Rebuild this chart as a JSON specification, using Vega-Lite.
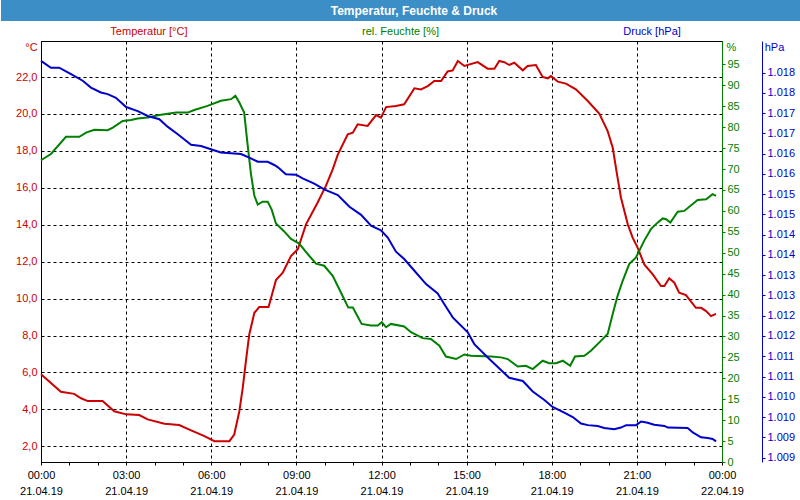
{
  "$schema": "https://vega.github.io/schema/vega-lite/v6.json",
  "padding": 0,
  "spacing": 0,
  "background": "white",
  "config": {
    "font": "Liberation Sans",
    "view": {"stroke": null},
    "axis": {"labelFont": "Liberation Sans", "labelFontSize": 11, "titleFont": "Liberation Sans", "titleFontSize": 11, "titleFontWeight": "normal"}
  },
  "datasets": {
    "temp": [
      {"h":0,"v":5.9},{"h":0.70,"v":4.95},{"h":1.17,"v":4.84},{"h":1.41,"v":4.6},{"h":1.65,"v":4.45},{"h":2.17,"v":4.45},{"h":2.58,"v":3.9},{"h":3.0,"v":3.73},{"h":3.46,"v":3.69},{"h":3.76,"v":3.46},{"h":4.35,"v":3.22},{"h":4.87,"v":3.15},{"h":5.29,"v":2.86},{"h":5.76,"v":2.55},{"h":6.11,"v":2.28},{"h":6.64,"v":2.28},{"h":6.81,"v":2.64},{"h":6.99,"v":3.9},{"h":7.11,"v":5.17},{"h":7.22,"v":6.6},{"h":7.34,"v":8.06},{"h":7.52,"v":9.23},{"h":7.69,"v":9.54},{"h":8.02,"v":9.54},{"h":8.11,"v":10.04},{"h":8.28,"v":11.0},{"h":8.52,"v":11.4},{"h":8.81,"v":12.3},{"h":9.05,"v":12.67},{"h":9.34,"v":14.02},{"h":9.75,"v":15.2},{"h":10.04,"v":16.1},{"h":10.28,"v":17.0},{"h":10.46,"v":17.8},{"h":10.81,"v":18.9},{"h":10.99,"v":18.98},{"h":11.16,"v":19.44},{"h":11.51,"v":19.35},{"h":11.81,"v":19.94},{"h":11.98,"v":19.8},{"h":12.16,"v":20.37},{"h":12.51,"v":20.43},{"h":12.80,"v":20.52},{"h":13.16,"v":21.39},{"h":13.39,"v":21.33},{"h":13.63,"v":21.51},{"h":13.86,"v":21.78},{"h":14.10,"v":21.78},{"h":14.33,"v":22.3},{"h":14.51,"v":22.36},{"h":14.69,"v":22.87},{"h":14.92,"v":22.6},{"h":15.39,"v":22.81},{"h":15.74,"v":22.45},{"h":15.98,"v":22.45},{"h":16.15,"v":22.87},{"h":16.33,"v":22.8},{"h":16.50,"v":22.65},{"h":16.68,"v":22.77},{"h":16.98,"v":22.36},{"h":17.15,"v":22.6},{"h":17.44,"v":22.65},{"h":17.68,"v":22.0},{"h":17.86,"v":21.93},{"h":17.97,"v":22.05},{"h":18.21,"v":21.75},{"h":18.50,"v":21.64},{"h":18.85,"v":21.33},{"h":19.27,"v":20.7},{"h":19.68,"v":20.01},{"h":19.97,"v":19.07},{"h":20.15,"v":18.17},{"h":20.30,"v":16.73},{"h":20.44,"v":15.46},{"h":20.68,"v":14.02},{"h":20.85,"v":13.3},{"h":21.03,"v":12.75},{"h":21.26,"v":11.85},{"h":21.56,"v":11.31},{"h":21.85,"v":10.68},{"h":21.97,"v":10.68},{"h":22.14,"v":11.1},{"h":22.32,"v":10.86},{"h":22.49,"v":10.32},{"h":22.73,"v":10.19},{"h":23.08,"v":9.5},{"h":23.26,"v":9.5},{"h":23.44,"v":9.32},{"h":23.61,"v":9.05},{"h":23.79,"v":9.17}
    ],
    "hum": [
      {"h":0,"v":72.1},{"h":0.35,"v":73.6},{"h":0.88,"v":77.7},{"h":1.35,"v":77.7},{"h":1.59,"v":78.7},{"h":1.88,"v":79.4},{"h":2.35,"v":79.3},{"h":2.53,"v":79.9},{"h":2.88,"v":81.5},{"h":3.17,"v":81.7},{"h":3.41,"v":82.1},{"h":3.76,"v":82.3},{"h":4.17,"v":82.9},{"h":4.76,"v":83.5},{"h":5.17,"v":83.5},{"h":5.40,"v":84.1},{"h":5.87,"v":85.1},{"h":6.34,"v":86.3},{"h":6.70,"v":86.7},{"h":6.85,"v":87.5},{"h":6.99,"v":85.9},{"h":7.16,"v":83.5},{"h":7.28,"v":75.9},{"h":7.40,"v":68.8},{"h":7.52,"v":63.6},{"h":7.64,"v":61.5},{"h":7.81,"v":62.2},{"h":7.99,"v":62.2},{"h":8.13,"v":60.3},{"h":8.28,"v":57.0},{"h":8.57,"v":55.1},{"h":8.81,"v":53.3},{"h":9.10,"v":52.2},{"h":9.40,"v":49.7},{"h":9.69,"v":47.4},{"h":9.98,"v":46.9},{"h":10.28,"v":44.5},{"h":10.57,"v":40.5},{"h":10.83,"v":36.9},{"h":10.99,"v":36.9},{"h":11.30,"v":33.0},{"h":11.63,"v":32.6},{"h":11.87,"v":32.6},{"h":12.01,"v":33.4},{"h":12.16,"v":32.2},{"h":12.33,"v":33.0},{"h":12.80,"v":32.4},{"h":13.04,"v":31.0},{"h":13.45,"v":29.6},{"h":13.74,"v":29.4},{"h":14.04,"v":27.8},{"h":14.27,"v":25.2},{"h":14.63,"v":24.6},{"h":14.92,"v":25.7},{"h":15.15,"v":25.4},{"h":15.86,"v":25.2},{"h":16.21,"v":25.0},{"h":16.45,"v":24.6},{"h":16.80,"v":22.8},{"h":17.09,"v":23.0},{"h":17.33,"v":22.2},{"h":17.68,"v":24.2},{"h":17.91,"v":23.6},{"h":18.15,"v":23.6},{"h":18.39,"v":24.2},{"h":18.65,"v":23.0},{"h":18.82,"v":25.2},{"h":19.15,"v":25.4},{"h":19.38,"v":26.6},{"h":19.74,"v":29.0},{"h":19.97,"v":30.6},{"h":20.15,"v":35.4},{"h":20.32,"v":39.7},{"h":20.50,"v":43.3},{"h":20.73,"v":47.3},{"h":20.97,"v":48.9},{"h":21.26,"v":52.9},{"h":21.50,"v":55.7},{"h":21.73,"v":57.2},{"h":21.91,"v":58.2},{"h":22.03,"v":58.0},{"h":22.18,"v":57.2},{"h":22.44,"v":59.8},{"h":22.67,"v":60.0},{"h":23.14,"v":62.6},{"h":23.44,"v":62.8},{"h":23.67,"v":64.0},{"h":23.79,"v":63.6}
    ],
    "pres": [
      {"h":0,"v":1018.29},{"h":0.35,"v":1018.12},{"h":0.64,"v":1018.12},{"h":1.06,"v":1017.96},{"h":1.47,"v":1017.80},{"h":1.76,"v":1017.63},{"h":2.11,"v":1017.51},{"h":2.35,"v":1017.47},{"h":2.64,"v":1017.38},{"h":3.0,"v":1017.15},{"h":3.41,"v":1017.05},{"h":3.76,"v":1016.93},{"h":4.17,"v":1016.85},{"h":4.47,"v":1016.66},{"h":4.82,"v":1016.48},{"h":5.29,"v":1016.22},{"h":5.64,"v":1016.19},{"h":5.99,"v":1016.11},{"h":6.34,"v":1016.03},{"h":7.05,"v":1015.99},{"h":7.34,"v":1015.90},{"h":7.64,"v":1015.80},{"h":7.99,"v":1015.80},{"h":8.22,"v":1015.72},{"h":8.34,"v":1015.67},{"h":8.63,"v":1015.49},{"h":8.99,"v":1015.48},{"h":9.22,"v":1015.39},{"h":9.63,"v":1015.26},{"h":9.98,"v":1015.12},{"h":10.46,"v":1014.98},{"h":10.87,"v":1014.69},{"h":11.28,"v":1014.49},{"h":11.63,"v":1014.22},{"h":11.98,"v":1014.11},{"h":12.22,"v":1013.93},{"h":12.51,"v":1013.58},{"h":12.80,"v":1013.40},{"h":13.16,"v":1013.11},{"h":13.57,"v":1012.78},{"h":13.98,"v":1012.55},{"h":14.21,"v":1012.29},{"h":14.51,"v":1011.96},{"h":15.04,"v":1011.59},{"h":15.27,"v":1011.30},{"h":15.80,"v":1010.93},{"h":16.21,"v":1010.66},{"h":16.50,"v":1010.47},{"h":16.98,"v":1010.39},{"h":17.33,"v":1010.13},{"h":17.74,"v":1009.92},{"h":18.03,"v":1009.75},{"h":18.44,"v":1009.61},{"h":18.74,"v":1009.50},{"h":19.03,"v":1009.34},{"h":19.27,"v":1009.30},{"h":19.62,"v":1009.28},{"h":19.85,"v":1009.23},{"h":20.20,"v":1009.20},{"h":20.44,"v":1009.24},{"h":20.62,"v":1009.30},{"h":20.97,"v":1009.30},{"h":21.15,"v":1009.39},{"h":21.38,"v":1009.36},{"h":21.61,"v":1009.31},{"h":21.97,"v":1009.28},{"h":22.09,"v":1009.24},{"h":22.79,"v":1009.23},{"h":22.97,"v":1009.12},{"h":23.26,"v":1009.00},{"h":23.50,"v":1008.98},{"h":23.67,"v":1008.96},{"h":23.79,"v":1008.90}
    ]
  },
  "vconcat": [
    {
      "width": 760,
      "height": 21,
      "view": {"fill": "#3c8ec7", "stroke": null},
      "data": {"values": [{"t": "Temperatur, Feuchte & Druck"}]},
      "mark": {"type": "text", "color": "white", "fontWeight": "bold", "fontSize": 12, "dx": -7},
      "encoding": {
        "text": {"field": "t"},
        "y": {"field": "t", "type": "nominal", "axis": {"title": null, "labels": false, "ticks": false, "grid": false, "domain": true, "domainColor": "#3c8ec7", "domainWidth": 80, "domainCap": "butt", "translate": 0, "minExtent": 0, "maxExtent": 0}}
      }
    },
    {
      "width": 719,
      "height": 19,
      "data": {"values": [{"label": "Temperatur [°C]"}, {"label": "rel. Feuchte [%]"}, {"label": "Druck [hPa]"}]},
      "mark": {"type": "text", "fontSize": 11, "dy": 1.5},
      "encoding": {
        "x": {"field": "label", "type": "nominal", "sort": null, "scale": {"type": "point", "padding": 0.429}, "axis": null},
        "text": {"field": "label"},
        "color": {"field": "label", "type": "nominal", "sort": null, "scale": {"domain": ["Temperatur [°C]", "rel. Feuchte [%]", "Druck [hPa]"], "range": ["#cc0000", "#008000", "#0000cc"]}, "legend": null}
      }
    },
    {
      "width": 681,
      "height": 421,
      "view": {"stroke": "black", "strokeWidth": 1},
      "encoding": {
        "x": {
          "field": "h", "type": "quantitative",
          "scale": {"domain": [0, 24], "nice": false, "zero": false},
          "axis": {
            "title": null,
            "values": [0,1,2,3,4,5,6,7,8,9,10,11,12,13,14,15,16,17,18,19,20,21,22,23,24],
            "labelExpr": "datum.value % 3 === 0 ? [(datum.value % 24 < 10 ? '0' : '') + (datum.value % 24) + ':00', datum.value < 24 ? '21.04.19' : '22.04.19'] : ''",
            "labelColor": "black",
            "labelLineHeight": 16,
            "labelPadding": 4,
            "labelFlush": false,
            "labelOverlap": false,
            "labelBound": false,
            "tickSize": 3,
            "tickColor": "black",
            "domainColor": "black",
            "grid": true,
            "gridColor": "black",
            "gridDash": [3, 3],
            "gridOpacity": {"condition": {"test": "datum.value % 3 !== 0", "value": 0}, "value": 1}
          }
        }
      },
      "layer": [
        {
          "data": {"name": "temp"},
          "mark": {"type": "line", "color": "#cc0000", "strokeWidth": 2},
          "encoding": {
            "y": {
              "field": "v", "type": "quantitative",
              "scale": {"domain": [1.15, 23.95], "nice": false, "zero": false},
              "axis": {
                "orient": "left",
                "values": [2,4,6,8,10,12,14,16,18,20,22],
                "labelExpr": "replace(format(datum.value, '.1f'), '.', ',')",
                "labelColor": "#cc0000",
                "labelPadding": 4,
                "tickSize": 0,
                "domainColor": "black",
                "grid": true,
                "gridColor": "black",
                "gridDash": [3, 3],
                "gridOpacity": 1,
                "title": "°C",
                "titleColor": "#cc0000",
                "titleAngle": 0,
                "titleAlign": "center",
                "titleBaseline": "middle",
                "titleX": -10,
                "titleY": 6,
                "minExtent": 40,
                "maxExtent": 40
              }
            }
          }
        },
        {
          "data": {"name": "hum"},
          "mark": {"type": "line", "color": "#008000", "strokeWidth": 2},
          "encoding": {
            "y": {
              "field": "v", "type": "quantitative",
              "scale": {"domain": [0, 100.6], "nice": false, "zero": false},
              "axis": {
                "orient": "right",
                "values": [0,5,10,15,20,25,30,35,40,45,50,55,60,65,70,75,80,85,90,95],
                "labelColor": "#008000",
                "labelPadding": 2,
                "tickSize": 3,
                "tickColor": "#008000",
                "domainColor": "#008000",
                "grid": false,
                "title": "%",
                "titleColor": "#008000",
                "titleAngle": 0,
                "titleAlign": "center",
                "titleBaseline": "middle",
                "titleX": 9,
                "titleY": 6
              }
            }
          }
        },
        {
          "data": {"name": "pres"},
          "mark": {"type": "line", "color": "#0000cc", "strokeWidth": 2},
          "encoding": {
            "y": {
              "field": "v", "type": "quantitative",
              "scale": {"domain": [1008.39, 1018.78], "nice": false, "zero": false},
              "axis": {
                "orient": "right",
                "offset": 40,
                "values": [1008.5,1009,1009.5,1010,1010.5,1011,1011.5,1012,1012.5,1013,1013.5,1014,1014.5,1015,1015.5,1016,1016.5,1017,1017.5,1018],
                "labelExpr": "'1.' + format(round(datum.value) - 1000, '03d')",
                "labelColor": "#0000cc",
                "labelPadding": 2,
                "tickSize": 3,
                "tickColor": "#0000cc",
                "domainColor": "#0000cc",
                "grid": false,
                "title": "hPa",
                "titleColor": "#0000cc",
                "titleAngle": 0,
                "titleAlign": "center",
                "titleBaseline": "middle",
                "titleX": 12,
                "titleY": 6
              }
            }
          }
        }
      ],
      "resolve": {"scale": {"y": "independent"}, "axis": {"y": "independent"}}
    }
  ]
}
